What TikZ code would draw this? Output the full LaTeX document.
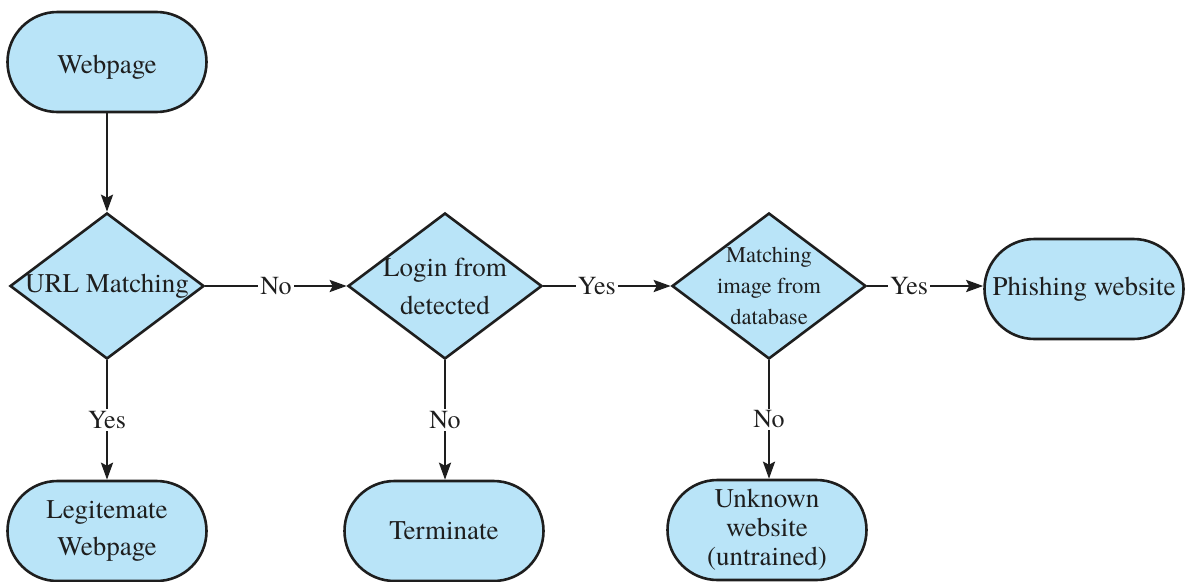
\documentclass[tikz,border=0pt]{standalone}
\usepackage{fontspec}
\setmainfont{TeX Gyre Termes}
\newfontfamily\tms{TeX Gyre Termes}
\usetikzlibrary{shapes.geometric,shapes.misc,arrows.meta}
\definecolor{boxblue}{RGB}{185,228,248}
\definecolor{ink}{RGB}{30,30,30}
\begin{document}
\begin{tikzpicture}[x=1pt,y=-1pt,
  stad/.style={rounded rectangle, draw=ink, line width=2.6pt, fill=boxblue,
    minimum width=199pt, minimum height=100pt, inner sep=0pt, align=center,
    font=\tms\fontsize{27}{37}\selectfont, text=ink},
  dia/.style={diamond, draw=ink, line width=2.6pt, fill=boxblue,
    minimum width=194pt, minimum height=146pt, inner sep=0pt},
  diatext/.style={align=center, font=\tms\fontsize{27}{38}\selectfont, text=ink, inner sep=0pt},
  arr/.style={draw=ink, line width=2.6pt, -{Stealth[length=17pt,width=12pt,inset=3pt]}},
  lab/.style={fill=white, inner sep=2pt, font=\tms\fontsize{26}{30}\selectfont, text=ink}]
\useasboundingbox (0,0) rectangle (1186,581);
\node[stad] (web) at (107,62) {};
\node[font=\tms\fontsize{27}{37}\selectfont, text=ink, inner sep=0pt] (webt) at (107,67) {Webpage};
\node[dia, label={[diatext, name=urlt]center:URL Matching}] (url) at (107,286) {};
\node[dia, label={[diatext, name=logint]center:Login from\\detected}] (login) at (445,286) {};
\node[dia, label={[diatext, font=\tms\fontsize{22.5}{31}\selectfont, name=matcht]center:Matching\\image from\\database}] (match) at (769,286) {};
\node[stad] (phish) at (1084,289) {Phishing website};
\node[stad] (legit) at (107,531) {Legitemate\\Webpage};
\node[stad] (term) at (444,531) {Terminate};
\node[stad, font=\tms\fontsize{27}{29}\selectfont] (unk) at (767,530) {Unknown\\website\\(untrained)};
\draw[arr] (web) -- (url);
\draw[arr] (url.east) -- node[lab, pos=0.5] {No} (login.west);
\draw[arr] (login.east) -- node[lab, pos=0.42] {Yes} (match.west);
\draw[arr] (match.east) -- node[lab, pos=0.36] {Yes} (match.east -| phish.west);
\draw[arr] (url.south) -- node[lab, pos=0.5] {Yes} (legit.north);
\draw[arr] (login.south) -- node[lab, pos=0.5] {No} (login.south |- term.north);
\draw[arr] (match.south) -- node[lab, pos=0.5] {No} (match.south |- unk.north);
\end{tikzpicture}
\end{document}
